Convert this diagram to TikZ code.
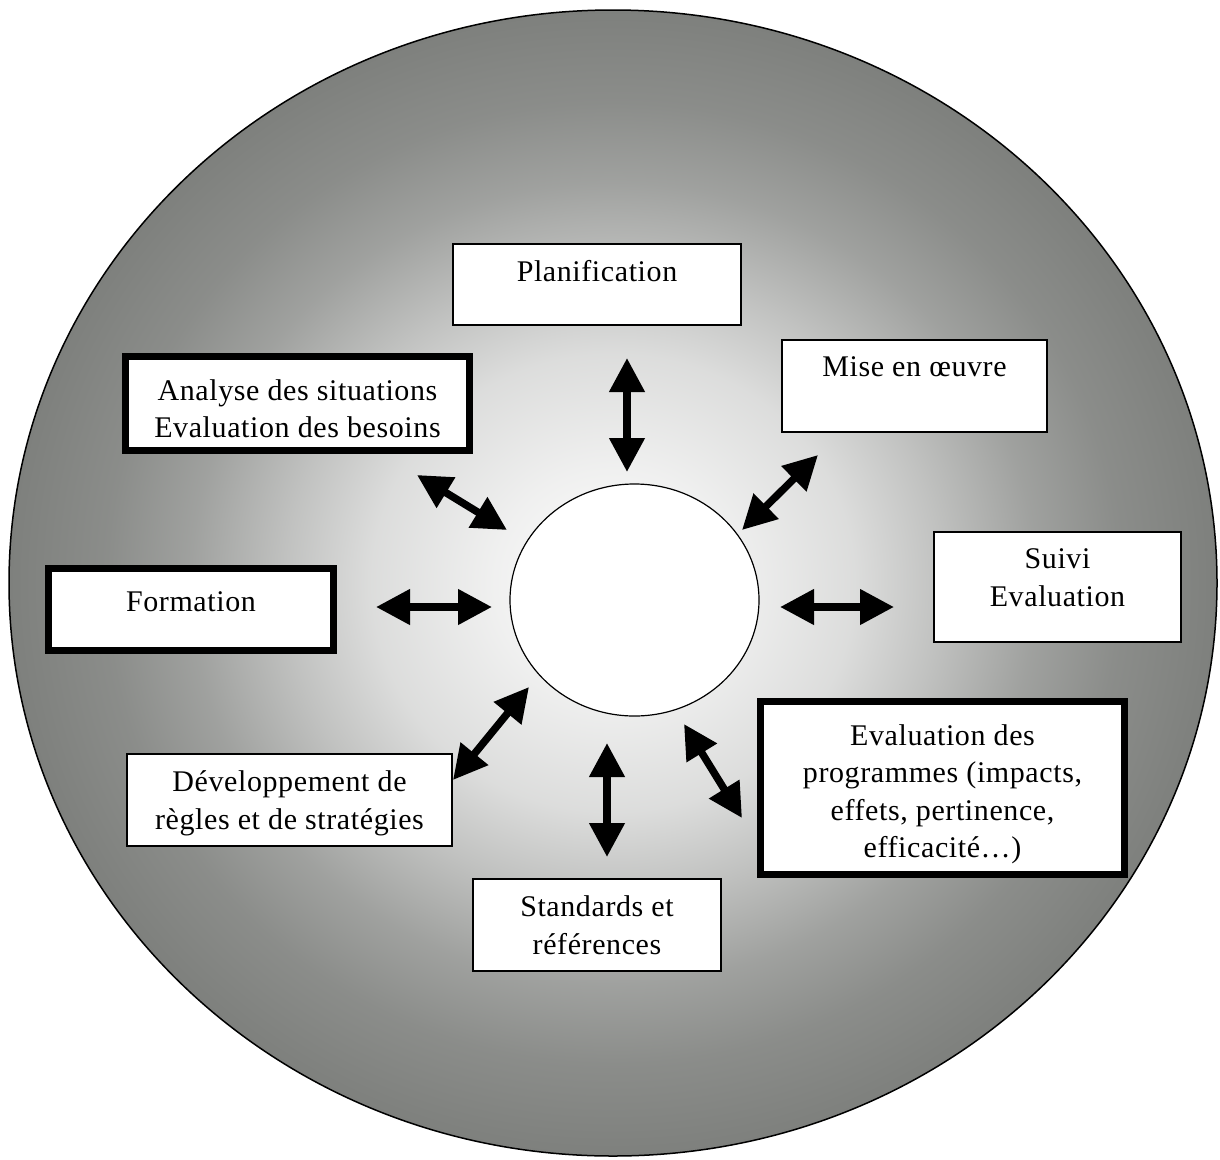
\documentclass[tikz,border=0pt]{standalone}
\usepackage{fontspec}
\setmainfont[LetterSpace=2]{Liberation Serif}
\usetikzlibrary{positioning,arrows.meta,shapes.geometric}
\definecolor{discgrey}{RGB}{126,128,125}
\pgfdeclareradialshading{discfade}{\pgfpoint{0bp}{0bp}}{color(0bp)=(white); color(5bp)=(discgrey!12); color(10bp)=(discgrey!27); color(13.5bp)=(discgrey!48); color(17.5bp)=(discgrey!74); color(21bp)=(discgrey!90); color(25bp)=(discgrey); color(50bp)=(discgrey)}

\begin{document}
\begin{tikzpicture}[x=1pt,y=-1pt,font=\fontsize{30}{37.5}\selectfont,
    thinbox/.style={draw,fill=white,line width=2pt,inner sep=0pt},
    thickbox/.style={draw,fill=white,line width=7pt,inner sep=0pt},
    lbl/.style={align=center,inner sep=0pt,anchor=north},
    dbl/.style={line width=7.5pt,{Triangle[length=34pt,width=34pt]}-{Triangle[length=34pt,width=34pt]}}]
    \useasboundingbox (0,0) rectangle (1220,1159);
    \shadedraw[shading=discfade,line width=1.5pt] (613,583) ellipse [x radius=604,y radius=573];
    \node[draw,fill=white,ellipse,line width=1.2pt,inner sep=0pt,minimum width=249pt,minimum height=232pt] (hub) at (634.5,600) {};
    % boxes
    \node[thinbox,minimum width=288pt,minimum height=81pt] (plan) at (597,284.5) {};
    \node[thinbox,minimum width=265pt,minimum height=92pt] (mise) at (914.5,386) {};
    \node[thickbox,minimum width=344pt,minimum height=94pt] (anal) at (297.5,403.5) {};
    \node[thickbox,minimum width=285pt,minimum height=82pt] (form) at (191,609.5) {};
    \node[thinbox,minimum width=247pt,minimum height=110pt] (suivi) at (1057.5,587) {};
    \node[thickbox,minimum width=364pt,minimum height=173pt] (prog) at (942.5,788) {};
    \node[thinbox,minimum width=325pt,minimum height=92pt] (regl) at (289.5,800) {};
    \node[thinbox,minimum width=248pt,minimum height=92pt] (std) at (597,925) {};
    % texts
    \node[lbl] (plan-t) at ([yshift=-17.5pt]plan.north) {Planification};
    \node[lbl] (mise-t) at ([yshift=-17.5pt]mise.north) {Mise en œuvre};
    \node[lbl] (anal-t) at ([yshift=-26pt]anal.north) {Analyse des situations\\Evaluation des besoins};
    \node[lbl] (form-t) at ([yshift=-26pt]form.north) {Formation};
    \node[lbl] (suivi-t) at ([yshift=-17.5pt]suivi.north) {Suivi\\Evaluation};
    \node[lbl] (prog-t) at ([yshift=-26pt]prog.north) {Evaluation des\\programmes (impacts,\\effets, pertinence,\\efficacité…)};
    \node[lbl] (regl-t) at ([yshift=-17.5pt]regl.north) {Développement de\\règles et de stratégies};
    \node[lbl] (std-t) at ([yshift=-17.5pt]std.north) {Standards et\\références};
    % arrows
    \foreach \n/\xa/\ya/\xb/\yb in {plan/627/358/627/472,mise/818/455/742/530,suivi/894/607/780/607,prog/742/818/684/724,std/607/857/607/743,regl/453/780/529/687,form/376/607/492/607,anal/417/475/507/530}{
      \coordinate (\n-o) at (\xa,\ya);
      \coordinate (\n-i) at (\xb,\yb);
      \draw[dbl] (\n-o) -- (\n-i);
    }
\end{tikzpicture}
\end{document}
